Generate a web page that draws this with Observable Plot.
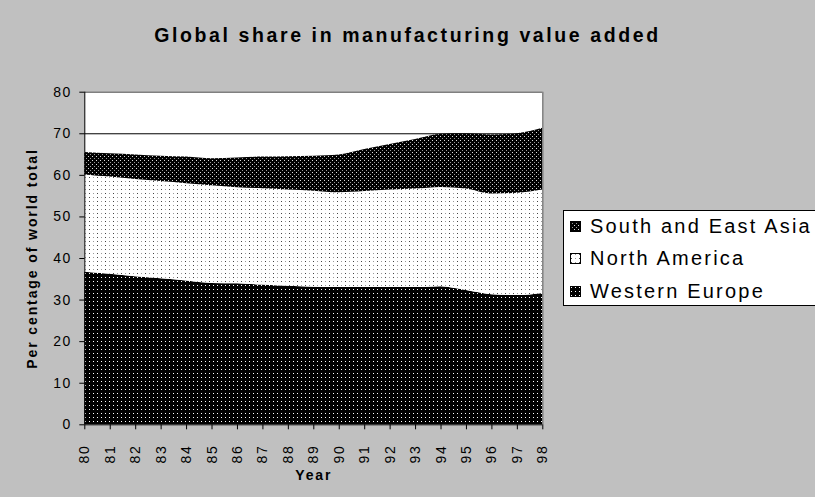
<!DOCTYPE html>
<html>
<head>
<meta charset="utf-8">
<script src="https://cdn.jsdelivr.net/npm/d3@7"></script>
<script src="https://cdn.jsdelivr.net/npm/@observablehq/plot@0.6"></script>
<style>
  html, body { margin: 0; padding: 0; background: #c0c0c0; }
  #wrap { position: relative; width: 815px; height: 497px; background: #c0c0c0; overflow: hidden;
          font-family: "Liberation Sans", Arial, sans-serif; }
  #title { position: absolute; left: 0; width: 815px; top: 24px; text-align: center;
           font-weight: bold; font-size: 19.5px; letter-spacing: 2.6px; color: #000; }
  #legend { position: absolute; left: 563px; top: 210px; width: 270px; height: 96px;
            background: #fff; border: 1px solid #000; box-sizing: border-box; }
  .item { position: absolute; left: 6px; height: 24px; display: flex; align-items: center;
          font-size: 20px; letter-spacing: 2.2px; color: #000; white-space: nowrap; }
  .item svg { margin-right: 9px; }
</style>
</head>
<body>
<svg width="0" height="0" style="position:absolute">
  <defs>
    <pattern id="pWE" width="4" height="4" patternUnits="userSpaceOnUse">
      <rect width="4" height="4" fill="#000"/>
      <rect x="1" y="1" width="1" height="1" fill="#fff"/>
    </pattern>
    <pattern id="pNA" width="8" height="4" patternUnits="userSpaceOnUse">
      <rect width="8" height="4" fill="#fff"/>
      <rect x="1" y="1" width="1" height="1" fill="#444"/>
      <rect x="5" y="1" width="1" height="1" fill="#999"/>
    </pattern>
    <pattern id="pAS" width="4" height="4" patternUnits="userSpaceOnUse">
      <rect width="4" height="4" fill="#000"/>
      <rect x="0" y="0" width="1" height="1" fill="#ddd"/>
      <rect x="2" y="2" width="1" height="1" fill="#999"/>
    </pattern>
  </defs>
</svg>
<div id="wrap">
  <div id="title">Global share in manufacturing value added</div>
  <div id="legend"></div>
</div>
<script>
const years = [80, 81, 82, 83, 84, 85, 86, 87, 88, 89, 90, 91, 92, 93, 94, 95, 96, 97, 98];
const regions = ["Western Europe", "North America", "South and East Asia"];
const westernEurope = [36.7, 36.2, 35.6, 35.1, 34.6, 34.0, 33.9, 33.6, 33.3, 33.1, 33.0, 33.0, 33.0, 33.0, 33.2, 32.3, 31.3, 31.1, 31.6];
const northAmerica  = [23.4, 23.4, 23.4, 23.4, 23.4, 23.5, 23.1, 23.2, 23.2, 23.1, 22.8, 23.1, 23.5, 23.7, 23.9, 24.4, 24.2, 24.6, 24.9];
const southEastAsia = [5.4, 5.6, 5.9, 6.1, 6.4, 6.5, 7.2, 7.6, 8.0, 8.4, 9.1, 10.1, 10.9, 11.9, 12.8, 13.3, 14.2, 14.3, 14.8];
const yTicks = [0, 10, 20, 30, 40, 50, 60, 70, 80];
const legendOrder = ["South and East Asia", "North America", "Western Europe"];
const fills = ["url(#pWE)", "url(#pNA)", "url(#pAS)"];

const series = [westernEurope, northAmerica, southEastAsia];
const data = years.flatMap((yr, i) => regions.map((r, k) => ({year: yr, region: r, value: series[k][i]})));

const chart = Plot.plot({
  width: 815,
  height: 497,
  marginLeft: 84.3,
  marginRight: 272.7,
  marginTop: 91.7,
  marginBottom: 72.7,
  style: {background: "transparent", fontFamily: "'Liberation Sans', Arial, sans-serif", color: "#000", letterSpacing: "1.5px", overflow: "visible"},
  x: {domain: [80, 98]},
  y: {domain: [0, 80]},
  color: {domain: regions, range: fills},
  marks: [
    Plot.frame({fill: "#fff", stroke: null}),
    Plot.ruleY(yTicks.filter(d => d > 0 && d < 80), {stroke: "#000", strokeWidth: 1}),
    Plot.areaY(data, {x: "year", y: "value", z: "region", fill: "region", order: regions, curve: "monotone-x"}),
    Plot.ruleY([80], {stroke: "#808080", strokeWidth: 1.5}),
    Plot.ruleX([98], {stroke: "#808080", strokeWidth: 1.5}),
    Plot.axisY({ticks: yTicks, tickSize: 5, tickPadding: 8, fontSize: 14, label: null, stroke: "#000"}),
    Plot.axisX({ticks: years, tickFormat: d => String(d), tickRotate: -90, tickSize: 5, tickPadding: 15, fontSize: 14, label: null}),
    Plot.ruleX([80], {stroke: "#000", strokeWidth: 1}),
    Plot.ruleY([0], {stroke: "#000", strokeWidth: 1}),
    Plot.text(["Year"], {frameAnchor: "bottom", dy: 55, fontWeight: "bold", fontSize: 14}),
    Plot.text(["Per centage of world total"], {frameAnchor: "left", textAnchor: "middle", dx: -52, rotate: -90, fontWeight: "bold", fontSize: 14})
  ]
});
chart.style.position = "absolute";
chart.style.left = "0";
chart.style.top = "0";
chart.querySelectorAll("text").forEach(t => {
  if (t.textContent === "Year" || t.textContent.startsWith("Per centage")) t.style.letterSpacing = "1.9px";
});
const wrap = document.getElementById("wrap");
wrap.insertBefore(chart, wrap.firstChild);

const legend = document.getElementById("legend");
legendOrder.forEach((r, i) => {
  const f = fills[regions.indexOf(r)];
  const div = document.createElement("div");
  div.className = "item";
  div.style.top = (3 + i * 32.5) + "px";
  div.innerHTML = `<svg width="11" height="11"><rect x="0.5" y="0.5" width="10" height="10" fill="${f}" stroke="#000" stroke-width="1"/></svg><span>${r}</span>`;
  legend.appendChild(div);
});
</script>
</body>
</html>
